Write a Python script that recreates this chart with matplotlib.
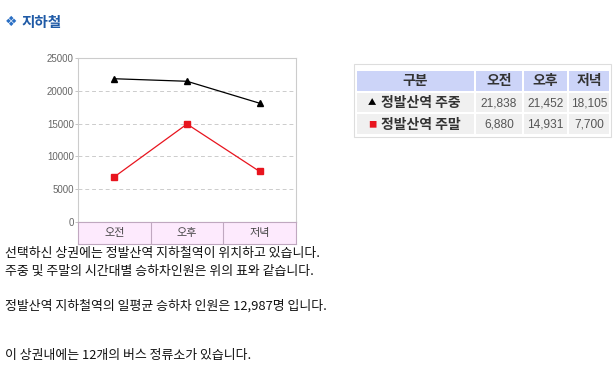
import matplotlib

matplotlib.use("Agg")
import matplotlib.pyplot as plt
from matplotlib.patches import Rectangle

plt.rcParams["font.family"] = ["Noto Sans CJK KR", "DejaVu Sans"]

W, H = 613, 376

# data
periods = ["오전", "오후", "저녁"]
series_names = ["정발산역 주중", "정발산역 주말"]
weekday = [21838, 21452, 18105]
weekend = [6880, 14931, 7700]
y_ticks = [0, 5000, 10000, 15000, 20000, 25000]
table_header = ["구분"] + periods
notes = [
    "선택하신 상권에는 정발산역 지하철역이 위치하고 있습니다.",
    "주중 및 주말의 시간대별 승하차인원은 위의 표와 같습니다.",
    "정발산역 지하철역의 일평균 승하차 인원은 12,987명 입니다.",
    "이 상권내에는 12개의 버스 정류소가 있습니다.",
]

fig = plt.figure(figsize=(W / 100, H / 100), dpi=100)


def px_axes(l, t, r, b):
    return fig.add_axes([l / W, 1 - b / H, (r - l) / W, (b - t) / H])


# line chart
ax = px_axes(78, 58, 296, 222)
x = range(len(periods))
ax.plot(x, weekday, color="black", lw=0.9, marker="^", ms=4.5)
ax.plot(x, weekend, color="#e8141e", lw=0.9, marker="s", ms=4, mfc="#e8141e", mec="#e8141e")
ax.set_xlim(-0.5, len(periods) - 0.5)
ax.set_ylim(0, 25000)
ax.set_yticks(y_ticks)
ax.set_yticklabels([str(v) for v in y_ticks], family="Liberation Sans", fontsize=7, color="#666666")
ax.set_xticks([])
ax.tick_params(axis="y", length=2, width=0.6, color="#bbbbbb", pad=1)
for v in y_ticks[1:-1]:
    ax.axhline(v, color="#cccccc", lw=0.7, ls=(0, (4, 3)), zorder=0)
for s in ax.spines.values():
    s.set_color("#cccccc")
    s.set_linewidth(0.8)

# category band under the chart
band = px_axes(78, 222, 296, 244)
band.set_facecolor("#fdeafd")
band.set_xlim(-0.5, len(periods) - 0.5)
band.set_ylim(0, 1)
band.set_xticks([])
band.set_yticks([])
for i in range(1, len(periods)):
    band.axvline(i - 0.5, color="#c0a8c0", lw=0.8)
for s in band.spines.values():
    s.set_color("#c0a8c0")
    s.set_linewidth(0.8)
for i, p in enumerate(periods):
    band.text(i, 0.5, p, ha="center", va="center", fontsize=8, color="#444444")

# overlay for title, table and notes (pixel coordinates)
ov = fig.add_axes([0, 0, 1, 1], zorder=-1)
ov.set_xlim(0, W)
ov.set_ylim(H, 0)
ov.axis("off")

ov.text(5, 22, "❖", fontsize=10, color="#2a6fc4", va="center", ha="left",
        family=["DejaVu Sans"])
ov.text(22, 22, "지하철", fontsize=10.5, fontweight="bold", color="#1f5aa6", va="center", ha="left")

# table
ov.add_patch(Rectangle((354, 64), 257, 73, fc="white", ec="#dddddd", lw=0.8))
col_edges = [356, 475, 523, 568, 610]
row_edges = [70, 92, 113, 135]
for r in range(3):
    for c in range(4):
        x0, x1 = col_edges[c] + 1, col_edges[c + 1] - 1
        y0, y1 = row_edges[r] + 1, row_edges[r + 1] - 1
        ov.add_patch(Rectangle((x0, y0), x1 - x0, y1 - y0,
                               fc="#ccd4f8" if r == 0 else "#f0f0f0", ec="none"))

for c, h in enumerate(table_header):
    cx = (col_edges[c] + col_edges[c + 1]) / 2
    ov.text(cx, 81.5, h, ha="center", va="center", fontsize=10, fontweight="bold", color="#333333")

row_values = [weekday, weekend]
row_markers = [("▲", "black", 6), ("■", "#e8141e", 6)]
for r, (name, vals) in enumerate(zip(series_names, row_values)):
    cy = (row_edges[r + 1] + row_edges[r + 2]) / 2 + 0.5
    sym, col, fs = row_markers[r]
    ov.text(372, cy, sym, ha="center", va="center", fontsize=fs, color=col)
    ov.text(381, cy, name, ha="left", va="center", fontsize=10, fontweight="bold", color="#333333")
    for c, v in enumerate(vals):
        cx = (col_edges[c + 1] + col_edges[c + 2]) / 2
        ov.text(cx, cy, f"{v:,}", ha="center", va="center", fontsize=8.6,
                family="Liberation Sans", color="#555555")

# notes
for y, line in zip([253, 271, 306, 355], notes):
    ov.text(5, y, line, ha="left", va="center", fontsize=9.3, color="#111111")

fig.savefig("out.png", dpi=100, facecolor="white")
